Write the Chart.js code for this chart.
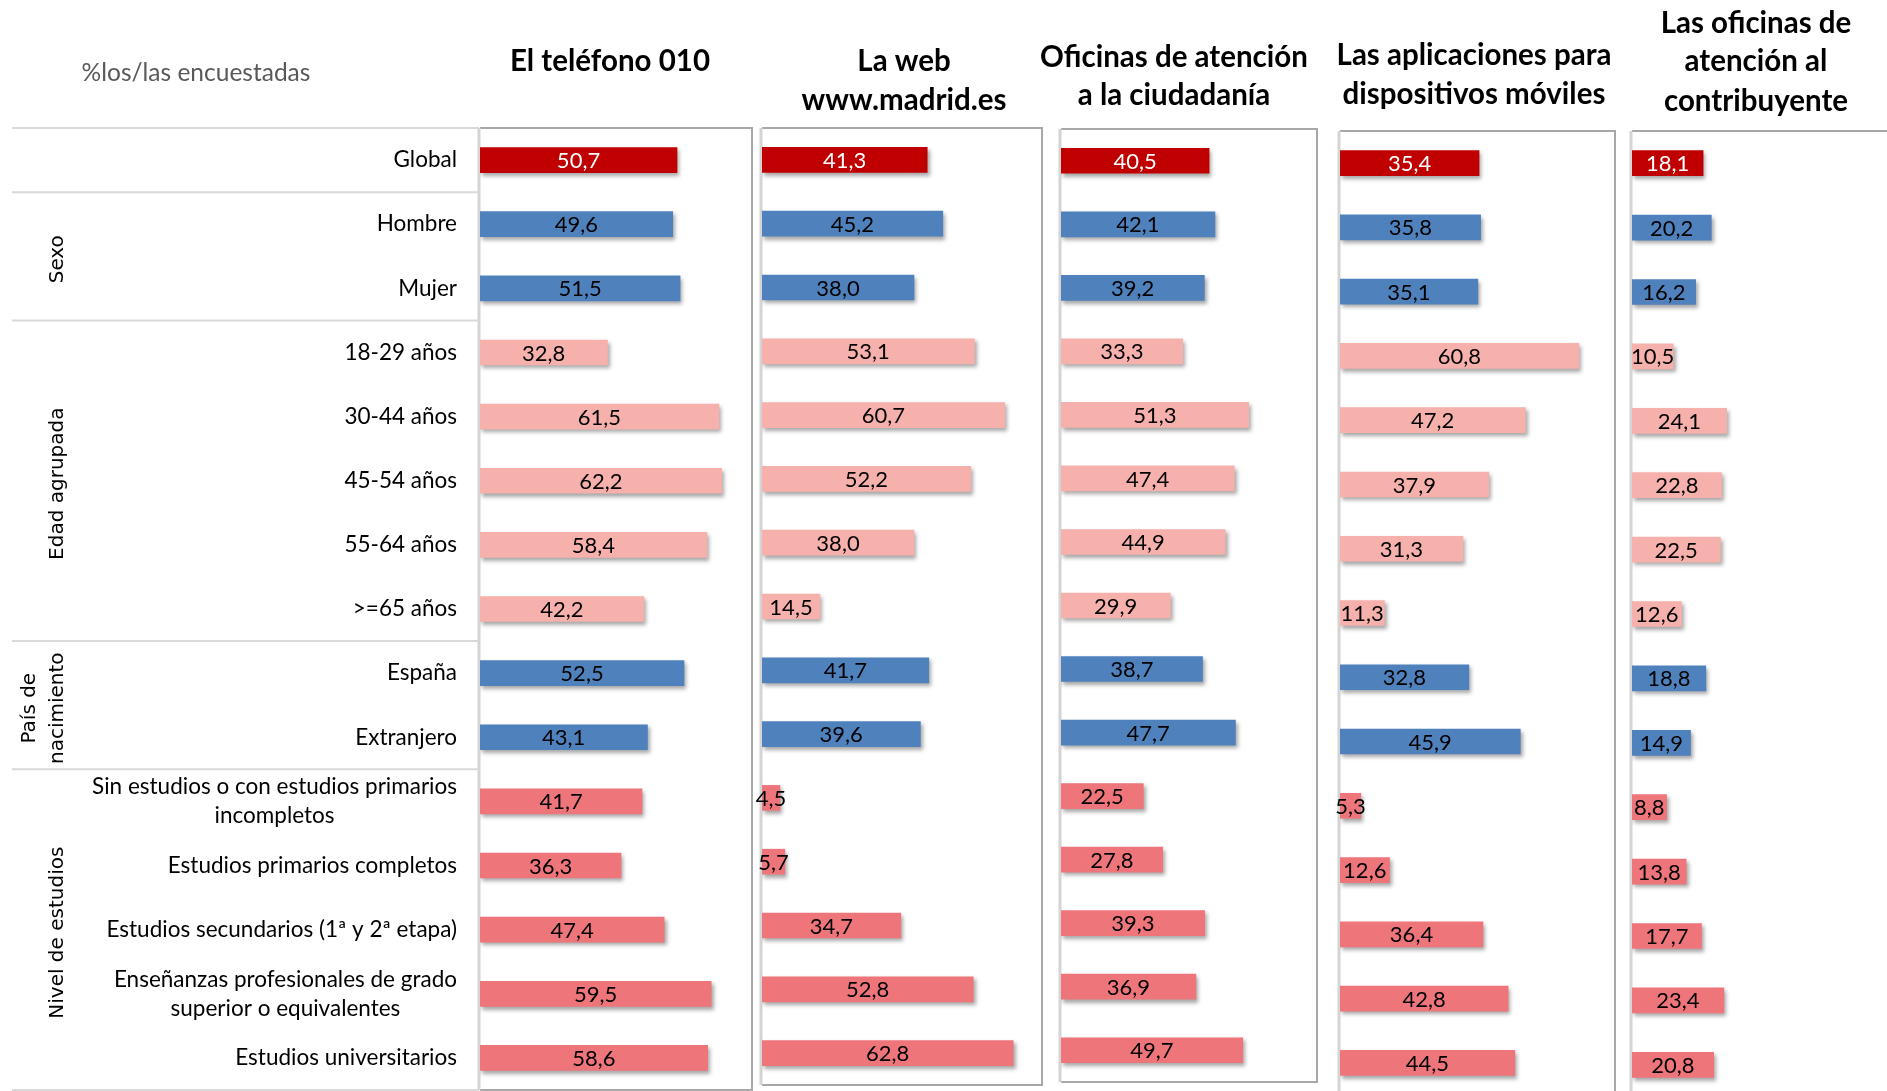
<!DOCTYPE html>
<html lang="es">
<head>
<meta charset="utf-8">
<title>Canales de atención municipal</title>
<script src="https://cdn.jsdelivr.net/npm/chart.js@4.4.0/dist/chart.umd.min.js"></script>
<style>
  html, body { margin: 0; padding: 0; background: #fff; overflow: hidden; }
  #wrap { position: relative; width: 1887px; height: 1091px; overflow: hidden; }
  #wrap canvas { position: absolute; top: 0; }
</style>
</head>
<body>
<div id="wrap"></div>
<script>
//**********************Datos*******************************************
var categories = [
  'Global', 'Hombre', 'Mujer',
  '18-29 años', '30-44 años', '45-54 años', '55-64 años', '>=65 años',
  'España', 'Extranjero',
  ['Sin estudios o con estudios primarios', 'incompletos'],
  'Estudios primarios completos',
  'Estudios secundarios (1ª y 2ª etapa)',
  ['Enseñanzas profesionales de grado', 'superior o equivalentes'],
  'Estudios universitarios'
];

var telefono010 = [50.7, 49.6, 51.5, 32.8, 61.5, 62.2, 58.4, 42.2, 52.5, 43.1, 41.7, 36.3, 47.4, 59.5, 58.6];
var webMadrid = [41.3, 45.2, 38.0, 53.1, 60.7, 52.2, 38.0, 14.5, 41.7, 39.6, 4.5, 5.7, 34.7, 52.8, 62.8];
var oficinasCiudadania = [40.5, 42.1, 39.2, 33.3, 51.3, 47.4, 44.9, 29.9, 38.7, 47.7, 22.5, 27.8, 39.3, 36.9, 49.7];
var appsMoviles = [35.4, 35.8, 35.1, 60.8, 47.2, 37.9, 31.3, 11.3, 32.8, 45.9, 5.3, 12.6, 36.4, 42.8, 44.5];
var oficinasContribuyente = [18.1, 20.2, 16.2, 10.5, 24.1, 22.8, 22.5, 12.6, 18.8, 14.9, 8.8, 13.8, 17.7, 23.4, 20.8];

var groupNames = ['Sexo', 'Edad agrupada', ['País de', 'nacimiento'], 'Nivel de estudios'];
var groupRows = [[1, 2], [3, 7], [8, 9], [10, 14]];
var xMax = 70;

// colores por fila: global, sexo, edad, país, estudios
var rowColors = ['#C00000',
  '#4F81BD', '#4F81BD',
  '#F6B1AC', '#F6B1AC', '#F6B1AC', '#F6B1AC', '#F6B1AC',
  '#4F81BD', '#4F81BD',
  '#EE767B', '#EE767B', '#EE767B', '#EE767B', '#EE767B'];

// cada panel con su caja y su título
var panels = [
  { title: ['El teléfono 010'], data: telefono010,
    left: 480, right: 752, top: 128, bottom: 1090, titleX: 610, titleY: [61], rowLabels: true },
  { title: ['La web', 'www.madrid.es'], data: webMadrid,
    left: 762, right: 1042, top: 128, bottom: 1085, titleX: 904, titleY: [61, 100] },
  { title: ['Oficinas de atención', 'a la ciudadanía'], data: oficinasCiudadania,
    left: 1061, right: 1317, top: 129, bottom: 1082, titleX: 1174, titleY: [57, 95] },
  { title: ['Las aplicaciones para', 'dispositivos móviles'], data: appsMoviles,
    left: 1340, right: 1615, top: 131, bottom: 1095, titleX: 1474, titleY: [55, 94] },
  { title: ['Las oficinas de', 'atención al', 'contribuyente'], data: oficinasContribuyente,
    left: 1632, right: 1907, top: 131, bottom: 1097, titleX: 1756, titleY: [23, 61, 101] }
];

function fmt(v) {
  return v.toFixed(1).replace('.', ',');
}

var panelPlugin = {
  id: 'panel',
  beforeDatasetsDraw: function(chart, args, opts) {
    var ctx = chart.ctx, a = chart.chartArea;
    ctx.save();
    // caja del panel
    ctx.strokeStyle = '#a8a8a8';
    ctx.lineWidth = 2;
    ctx.beginPath();
    ctx.moveTo(a.left, a.top);
    ctx.lineTo(a.right, a.top);
    ctx.lineTo(a.right, a.bottom);
    ctx.lineTo(a.left, a.bottom);
    ctx.stroke();
    ctx.strokeStyle = '#d4d4d4';
    ctx.lineWidth = 3;
    ctx.beginPath();
    ctx.moveTo(a.left - 1, a.top);
    ctx.lineTo(a.left - 1, a.bottom);
    ctx.stroke();
    ctx.restore();

    // sombra de las barras
    ctx.save();
    ctx.shadowColor = 'rgba(0,0,0,0.35)';
    ctx.shadowBlur = 4;
    ctx.shadowOffsetX = 2;
    ctx.shadowOffsetY = 3;
  },
  afterDatasetsDraw: function(chart, args, opts) {
    var ctx = chart.ctx;
    ctx.restore();
    var meta = chart.getDatasetMeta(0);
    var values = chart.data.datasets[0].data;

    ctx.save();
    ctx.font = '22px Lato';
    ctx.textAlign = 'center';
    ctx.textBaseline = 'middle';
    meta.data.forEach(function(bar, i) {
      ctx.fillStyle = i === 0 ? '#ffffff' : '#000000';
      ctx.fillText(fmt(values[i]), (bar.x + bar.base) / 2, bar.y + 1);
    });

    // título
    ctx.font = 'bold 29.5px Lato';
    ctx.fillStyle = '#000';
    opts.title.forEach(function(line, j) {
      ctx.fillText(line, opts.titleX, opts.titleY[j]);
    });
    ctx.restore();

    if (!opts.rowLabels) return;

    var y = chart.scales.y;
    var band = y.getPixelForValue(1) - y.getPixelForValue(0);
    ctx.save();

    // líneas separadoras a la izquierda
    ctx.strokeStyle = '#d9d9d9';
    ctx.lineWidth = 2;
    var cuts = [0, 1, 3, 8, 10, 15];
    cuts.forEach(function(c) {
      var py = y.getPixelForValue(c) - band / 2;
      ctx.beginPath();
      ctx.moveTo(12, py);
      ctx.lineTo(479, py);
      ctx.stroke();
    });

    // etiquetas de categoría
    ctx.font = '22.5px Lato';
    ctx.fillStyle = '#000';
    ctx.textAlign = 'center';
    ctx.textBaseline = 'middle';
    categories.forEach(function(lab, i) {
      var lines = Array.isArray(lab) ? lab : [lab];
      var w = 0;
      lines.forEach(function(l) { w = Math.max(w, ctx.measureText(l).width); });
      var cy = y.getPixelForValue(i);
      lines.forEach(function(l, j) {
        ctx.fillText(l, 457 - w / 2, cy + (j - (lines.length - 1) / 2) * 29);
      });
    });

    // encabezado de la tabla
    ctx.font = '24.5px Lato';
    ctx.fillStyle = '#595959';
    ctx.fillText('%los/las encuestadas', 196, 73);

    // grupos en vertical
    ctx.font = '20px "DejaVu Sans"';
    ctx.fillStyle = '#000';
    groupNames.forEach(function(g, k) {
      var lines = Array.isArray(g) ? g : [g];
      var mid = (y.getPixelForValue(groupRows[k][0]) + y.getPixelForValue(groupRows[k][1])) / 2;
      ctx.save();
      ctx.translate(0, mid + 3);
      ctx.rotate(-Math.PI / 2);
      lines.forEach(function(l, j) {
        var px = 58 - (lines.length - 1 - j) * 28;
        ctx.fillText(l, 0, px);
      });
      ctx.restore();
    });
    ctx.restore();
  }
};

var wrap = document.getElementById('wrap');

panels.forEach(function(p, i) {
  var cx0 = i === 0 ? 0 : p.left - 40;
  var w = p.right + 40 - cx0;
  var h = Math.max(1091, p.bottom + 4);
  var canvas = document.createElement('canvas');
  canvas.width = w;
  canvas.height = h;
  canvas.style.left = cx0 + 'px';
  wrap.appendChild(canvas);

  new Chart(canvas, {
    type: 'bar',
    data: {
      labels: categories,
      datasets: [{
        data: p.data,
        backgroundColor: rowColors,
        barThickness: 25,
        borderWidth: 0
      }]
    },
    options: {
      indexAxis: 'y',
      responsive: false,
      animation: false,
      layout: {
        padding: { left: p.left - cx0, right: cx0 + w - p.right, top: p.top, bottom: h - p.bottom }
      },
      scales: {
        x: { display: false, min: 0, max: xMax },
        y: { display: false }
      },
      plugins: {
        legend: { display: false },
        tooltip: { enabled: false },
        panel: {
          title: p.title,
          titleX: p.titleX - cx0,
          titleY: p.titleY,
          rowLabels: !!p.rowLabels
        }
      }
    },
    plugins: [panelPlugin]
  });
});
</script>
</body>
</html>
